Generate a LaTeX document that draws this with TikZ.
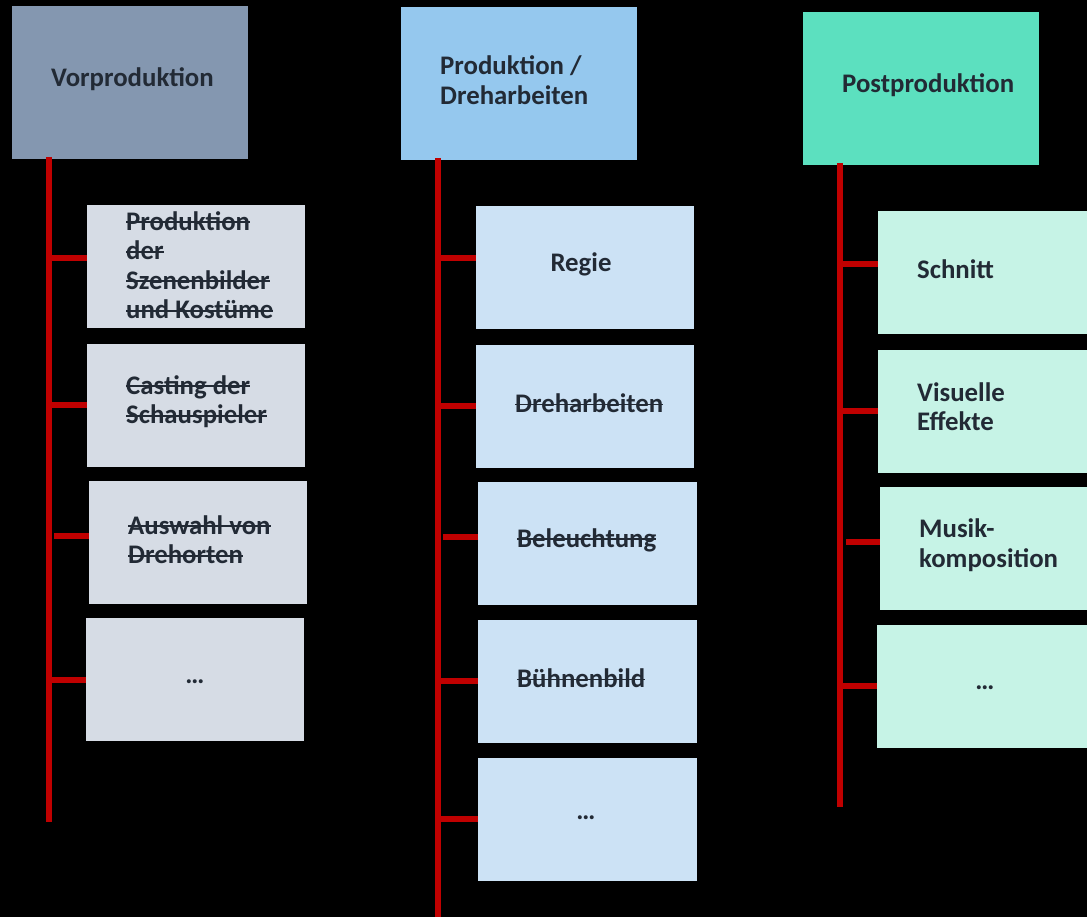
\documentclass[tikz,border=0pt]{standalone}
\usepackage{fontspec}
\setmainfont{Carlito}
\definecolor{txt}{HTML}{222A35}
\definecolor{redline}{HTML}{C00000}
\definecolor{hA}{HTML}{8497B0}
\definecolor{hB}{HTML}{95C8EE}
\definecolor{hC}{HTML}{5CE0BF}
\definecolor{cA}{HTML}{D6DCE5}
\definecolor{cB}{HTML}{CCE2F5}
\definecolor{cC}{HTML}{C6F3E6}
\newsavebox{\stbox}
\newcommand{\st}[1]{\leavevmode\sbox{\stbox}{#1}\rlap{\raisebox{0.26em}{\rule{\wd\stbox}{1.8pt}}}\usebox{\stbox}}
\tikzset{
  hbox/.style={rectangle, draw=none, minimum width=236pt, minimum height=153pt, anchor=north west, inner sep=0pt},
  cbox/.style={rectangle, draw=none, minimum width=218pt, minimum height=123pt, anchor=north west, inner sep=0pt},
  lbl/.style={text=txt, font=\fontsize{26.8}{29.5}\selectfont\bfseries, inner sep=0pt, align=left},
  spine/.style={draw=redline, line width=5.5pt},
  branch/.style={draw=redline, line width=5.5pt},
}
\begin{document}
\begin{tikzpicture}[x=1pt,y=-1pt]
\useasboundingbox (0,0) rectangle (1087,917);
\fill[black] (0,0) rectangle (1087,917);

% headers
\node[hbox, fill=hA] (h1) at (12,6) {};
\node[hbox, fill=hB] (h2) at (401,7) {};
\node[hbox, fill=hC] (h3) at (803,12) {};
\node[lbl, anchor=west] (h1t) at (51,79) {Vorproduktion};
\node[lbl, anchor=west] (h2t) at (440,80) {Produktion /\\Dreharbeiten};
\node[lbl, anchor=west] (h3t) at (842,85) {Postproduktion};

% spines
\coordinate (s1a) at (49,157); \coordinate (s1b) at (49,822);
\coordinate (s2a) at (438,158); \coordinate (s2b) at (438,917);
\coordinate (s3a) at (840,163); \coordinate (s3b) at (840,807);

% column 1
\node[cbox, fill=cA] (a1) at (87,205) {};
\node[cbox, fill=cA] (a2) at (87,344) {};
\node[cbox, fill=cA] (a3) at (89,481) {};
\node[cbox, fill=cA] (a4) at (86,618) {};
\node[lbl, anchor=west] (a1t) at (126,265) {\st{Produktion}\\\st{der}\\\st{Szenenbilder}\\\st{und Kostüme}};
\node[lbl, anchor=west] (a2t) at (126,401.5) {\st{Casting der}\\\st{Schauspieler}};
\node[lbl, anchor=west] (a3t) at (128,539.5) {\st{Auswahl von}\\\st{Drehorten}};
\node[lbl] (a4t) at (195,682) {…};

% column 2
\node[cbox, fill=cB] (b1) at (476,206) {};
\node[cbox, fill=cB] (b2) at (476,345) {};
\node[cbox, fill=cB, minimum width=219pt] (b3) at (478,482) {};
\node[cbox, fill=cB, minimum width=219pt] (b4) at (478,620) {};
\node[cbox, fill=cB, minimum width=219pt] (b5) at (478,758) {};
\node[lbl] (b1t) at (581,264) {Regie};
\node[lbl, anchor=west] (b2t) at (515,403) {\st{Dreharbeiten}};
\node[lbl, anchor=west] (b3t) at (517,540) {\st{Beleuchtung}};
\node[lbl, anchor=west] (b4t) at (517,678) {\st{Bühnenbild}};
\node[lbl] (b5t) at (586,818) {…};

% column 3
\node[cbox, fill=cC, minimum width=209pt] (c1) at (878,211) {};
\node[cbox, fill=cC, minimum width=209pt] (c2) at (878,350) {};
\node[cbox, fill=cC, minimum width=207pt] (c3) at (880,487) {};
\node[cbox, fill=cC, minimum width=210pt] (c4) at (877,625) {};
\node[lbl, anchor=west] (c1t) at (917,269) {Schnitt};
\node[lbl, anchor=west] (c2t) at (917,406.5) {Visuelle\\Effekte};
\node[lbl, anchor=west] (c3t) at (919,545) {Musik-\\komposition};
\node[lbl] (c4t) at (985,688) {…};

% spines and branches
\draw[spine] (s1a) -- (s1b);
\draw[spine] (s2a) -- (s2b);
\draw[spine] (s3a) -- (s3b);

\draw[branch] (s1a |- 0,258) -- (a1.west |- 0,258);
\draw[branch] (s1a |- 0,405) -- (a2.west |- 0,405);
\coordinate (g3) at (54,536);
\draw[branch] (g3) -- (a3.west |- g3);
\draw[branch] (s1a |- 0,680) -- (a4.west |- 0,680);

\draw[branch] (s2a |- 0,258) -- (b1.west |- 0,258);
\draw[branch] (s2a |- 0,406) -- (b2.west |- 0,406);
\coordinate (g7) at (443,537);
\draw[branch] (g7) -- (b3.west |- g7);
\draw[branch] (s2a |- 0,681) -- (b4.west |- 0,681);
\draw[branch] (s2a |- 0,819) -- (b5.west |- 0,819);

\draw[branch] (s3a |- 0,264) -- (c1.west |- 0,264);
\draw[branch] (s3a |- 0,411) -- (c2.west |- 0,411);
\coordinate (g11) at (846,542);
\draw[branch] (g11) -- (c3.west |- g11);
\draw[branch] (s3a |- 0,686) -- (c4.west |- 0,686);
\end{tikzpicture}
\end{document}
